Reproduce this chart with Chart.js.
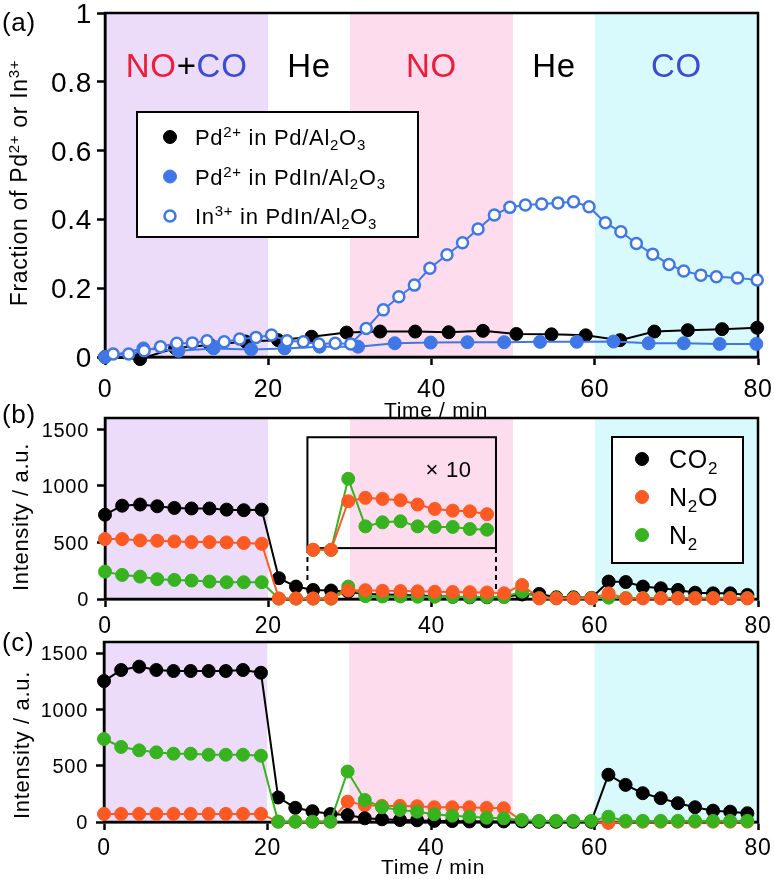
<!DOCTYPE html>
<html>
<head>
<meta charset="utf-8">
<title>Pd / PdIn transient response</title>
<script src="https://cdn.jsdelivr.net/npm/chart.js@4.4.1/dist/chart.umd.min.js"></script>
<style>
  html, body { margin: 0; padding: 0; background: #fff; }
  #figure { position: relative; width: 774px; height: 879px; overflow: hidden; }
  #figure canvas { position: absolute; left: 0; }
</style>
</head>
<body>
<div id="figure">
  <canvas id="panel-a" width="774" height="424" style="top:0"></canvas>
  <canvas id="panel-b" width="774" height="240" style="top:400px"></canvas>
  <canvas id="panel-c" width="774" height="249" style="top:630px"></canvas>
</div>
<script>
// gas switching sequence (min)
const phaseEdges = [0, 20, 30, 50, 60, 80];
const phaseGas = ['NO+CO', 'He', 'NO', 'He', 'CO'];

// tick values
const timeTicks = [0, 20, 40, 60, 80];
const fracTicks = [0, 0.2, 0.4, 0.6, 0.8, 1];
const intensityTicks = [0, 500, 1000, 1500];

// (a) fraction of oxidised species
const pdAlTime = [0, 4.3, 8.6, 12.9, 17.2, 21.2, 25.3, 29.6, 33.7, 38.0, 42.1, 46.3, 50.4, 54.7, 58.9, 63.1, 67.3, 71.4, 75.6, 79.9];
const pdAlFrac = [0.000, -0.006, 0.026, 0.035, 0.045, 0.049, 0.059, 0.071, 0.074, 0.074, 0.072, 0.076, 0.067, 0.066, 0.063, 0.049, 0.074, 0.078, 0.081, 0.085];
const pdInTime = [0, 4.7, 9.0, 13.3, 17.9, 22.0, 26.3, 31.0, 35.5, 39.9, 44.4, 48.9, 53.3, 57.8, 62.3, 66.6, 70.9, 75.3, 79.8];
const pdInFrac = [0.000, 0.025, 0.018, 0.025, 0.022, 0.025, 0.030, 0.030, 0.040, 0.042, 0.043, 0.043, 0.044, 0.044, 0.045, 0.040, 0.040, 0.038, 0.038];
const inTime = [1.0, 2.9, 4.8, 6.8, 8.8, 10.7, 12.5, 14.6, 16.5, 18.5, 20.4, 22.3, 24.3, 26.2, 28.2, 30.1, 32.0, 34.1, 36.0, 37.9,
                39.8, 41.9, 43.8, 45.7, 47.7, 49.6, 51.5, 53.5, 55.5, 57.4, 59.3, 61.3, 63.2, 65.1, 67.1, 69.1, 70.9, 73.0, 74.9, 77.5, 79.9];
const inFrac = [0.009, 0.009, 0.018, 0.030, 0.040, 0.041, 0.047, 0.044, 0.052, 0.057, 0.064, 0.047, 0.044, 0.038, 0.040, 0.038, 0.083, 0.137, 0.175, 0.209,
                0.258, 0.297, 0.332, 0.372, 0.413, 0.435, 0.442, 0.445, 0.448, 0.451, 0.437, 0.390, 0.364, 0.330, 0.299, 0.269, 0.250, 0.238, 0.233, 0.230, 0.224];

// (b), (c) mass spec sampling times (min)
const msTime = [0, 2.1, 4.3, 6.4, 8.5, 10.6, 12.8, 14.9, 17.0, 19.2, 21.3, 23.4, 25.5, 27.7, 29.8, 31.9, 34.0, 36.2, 38.3, 40.4,
                42.6, 44.7, 46.8, 48.9, 51.1, 53.2, 55.3, 57.4, 59.6, 61.7, 63.8, 65.9, 68.1, 70.2, 72.3, 74.5, 76.6, 78.7];

// (b) Pd/Al2O3
const bCO2 = [745, 825, 835, 820, 805, 800, 800, 790, 785, 790, 184, 110, 80, 75, 65, 45, 40, 35, 30, 25,
              20, 15, 15, 20, 40, 45, 15, 15, 10, 154, 150, 110, 95, 80, 56, 50, 50, 36];
const bN2O = [530, 530, 518, 515, 509, 503, 503, 500, 495, 488, 5, 5, 5, 5, 75, 78, 72, 70, 68, 64,
              62, 60, 58, 50, 124, 5, 5, 5, 5, 50, 5, 5, 5, 5, 5, 5, 5, 5];
const bN2 = [242, 213, 198, 175, 169, 163, 154, 148, 148, 148, 3, 3, 3, 3, 110, 25, 22, 22, 20, 20,
             18, 18, 18, 18, 65, 8, 8, 8, 8, 12, 8, 8, 8, 8, 8, 8, 8, 8];
// (b) x10 inset, as plotted
const insetTime = [25.5, 27.7, 29.8, 31.9, 34.0, 36.2, 38.3, 40.4, 42.6, 44.7, 46.8];
const insetN2O = [435, 435, 864, 894, 885, 873, 835, 796, 781, 775, 750];
const insetN2 = [435, 435, 1063, 642, 678, 687, 642, 637, 637, 619, 613];
const insetBox = { t0: 24.8, t1: 47.9, lo: 450, hi: 1430, leftDrop: 142, rightDrop: 80 };

// (c) PdIn/Al2O3
const cCO2 = [1253, 1351, 1381, 1351, 1342, 1342, 1342, 1342, 1351, 1327, 218, 126, 96, 71, 62, 33, 24, 18, 15, 10,
              8, 5, 5, 5, 5, 3, 3, 3, 3, 420, 330, 256, 212, 167, 131, 101, 92, 78];
const cN2O = [72, 72, 72, 72, 72, 72, 72, 72, 72, 72, 3, 3, 3, 3, 181, 150, 143, 143, 140, 131,
              131, 131, 125, 122, 10, 3, 3, 3, 3, -8, 3, 3, 3, 3, 3, 3, 3, 3];
const cN2 = [738, 667, 637, 619, 607, 607, 598, 598, 598, 589, 3, 3, 3, 3, 449, 196, 131, 107, 92, 69,
             56, 47, 38, 33, 18, 10, 10, 10, 10, 47, 10, 10, 10, 10, 10, 10, 10, 10];

const FAMILY = "'Liberation Sans', Arial, Helvetica, sans-serif";
const SPACING = '0.7px';
const BLACK = '#000000', BLUE = '#3f78e6', ORANGE = '#fc5a22', GREEN = '#36b31f';
const RED = '#ee1b3b', GAS_BLUE = '#3a4bd6';
const BAND = { 'NO+CO': '#ecdcf9', 'He': '#ffffff', 'NO': '#fcdced', 'CO': '#d9fafc' };
const GAS_TEXT = {
  'NO+CO': [{ t: 'NO', c: RED }, { t: '+' }, { t: 'CO', c: GAS_BLUE }],
  'He': [{ t: 'He' }],
  'NO': [{ t: 'NO', c: RED }],
  'CO': [{ t: 'CO', c: GAS_BLUE }]
};

const pts = (xs, ys) => xs.map((x, i) => ({ x, y: ys[i] }));

// text with super/subscripts, drawn on the baseline y
function runSize(p, size) { return (p.sup || p.sub) ? Math.round(size * 0.66) : size; }
function runWidth(ctx, parts, size) {
  let w = 0;
  parts.forEach(p => { ctx.font = runSize(p, size) + 'px ' + FAMILY; w += ctx.measureText(p.t).width; });
  return w;
}
// align: 'left' | 'center' | 'right'
function drawRun(ctx, parts, x, y, size, align) {
  ctx.save();
  ctx.letterSpacing = SPACING;
  ctx.textAlign = 'left';
  ctx.textBaseline = 'alphabetic';
  const w = runWidth(ctx, parts, size);
  let cx = align === 'center' ? x - w / 2 : (align === 'right' ? x - w : x);
  parts.forEach(p => {
    ctx.font = runSize(p, size) + 'px ' + FAMILY;
    ctx.fillStyle = p.c || BLACK;
    const dy = p.sup ? -size * 0.36 : (p.sub ? size * 0.22 : 0);
    ctx.fillText(p.t, cx, y + dy);
    cx += ctx.measureText(p.t).width;
  });
  ctx.restore();
}
function drawVertical(ctx, parts, x, yCenter, size) {
  ctx.save();
  ctx.translate(x, yCenter);
  ctx.rotate(-Math.PI / 2);
  drawRun(ctx, parts, 0, 0, size, 'center');
  ctx.restore();
}
function marker(ctx, x, y, r, fill, stroke, lw) {
  ctx.beginPath();
  ctx.arc(x, y, r, 0, Math.PI * 2);
  ctx.fillStyle = fill;
  ctx.fill();
  ctx.lineWidth = lw;
  ctx.strokeStyle = stroke;
  ctx.stroke();
}

function xScale(height) {
  return {
    type: 'linear', min: 0, max: 80,
    afterBuildTicks: s => { s.ticks = timeTicks.map(v => ({ value: v })); },
    afterFit: s => { s.height = height; s.paddingLeft = 0; s.paddingRight = 0; },
    ticks: { display: false, autoSkip: false },
    grid: { drawOnChartArea: false, drawTicks: true, tickLength: 8, tickWidth: 2.5, tickColor: BLACK },
    border: { color: BLACK, width: 2.5 }
  };
}
function yScale(max, ticks, width) {
  return {
    type: 'linear', min: 0, max: max,
    afterBuildTicks: s => { s.ticks = ticks.map(v => ({ value: v })); },
    afterFit: s => { s.width = width; s.paddingTop = 0; s.paddingBottom = 0; },
    ticks: { display: false, autoSkip: false },
    grid: { drawOnChartArea: false, drawTicks: true, tickLength: 8, tickWidth: 2.5, tickColor: BLACK },
    border: { color: BLACK, width: 2.5 }
  };
}

function series(label, xs, ys, color, order, r, open) {
  return {
    label: label, data: pts(xs, ys), order: order, clip: false,
    borderColor: color, borderWidth: 2, tension: 0,
    pointRadius: r, pointHoverRadius: r,
    pointBackgroundColor: open ? '#ffffff' : color,
    pointBorderColor: color, pointBorderWidth: open ? 2.5 : 1
  };
}

// bands, frame, tick labels and annotation text of one panel
function decor(cfg) {
  return {
    id: 'decor',
    beforeDraw(chart) {
      const { ctx, chartArea: a, scales: { x } } = chart;
      ctx.save();
      phaseGas.forEach((g, i) => {
        const x0 = x.getPixelForValue(phaseEdges[i]), x1 = x.getPixelForValue(phaseEdges[i + 1]);
        ctx.fillStyle = BAND[g];
        ctx.fillRect(x0, a.top, x1 - x0, a.bottom - a.top);
      });
      ctx.restore();
    },
    beforeDatasetsDraw(chart) {
      const { ctx, chartArea: a } = chart;
      ctx.save();
      ctx.strokeStyle = BLACK;
      ctx.lineWidth = 2.5;
      ctx.strokeRect(a.left, a.top, a.right - a.left, a.bottom - a.top);
      if (cfg.inset) cfg.inset(chart);
      ctx.restore();
    },
    afterDraw(chart) {
      const { ctx, chartArea: a, scales: { x, y } } = chart;
      ctx.save();
      // tick labels from the scales' own ticks
      x.ticks.forEach(t => {
        drawRun(ctx, [{ t: String(t.value) }], x.getPixelForValue(t.value), a.bottom + cfg.xLabelGap + cfg.xTickSize * 0.36, cfg.xTickSize, 'center');
      });
      y.ticks.forEach(t => {
        drawRun(ctx, [{ t: String(t.value) }], a.left - cfg.yLabelGap, y.getPixelForValue(t.value) + cfg.yTickSize * 0.36, cfg.yTickSize, 'right');
      });
      drawRun(ctx, [{ t: cfg.letter }], 2, cfg.letterY + 9, 26, 'left');
      drawVertical(ctx, cfg.yTitle, cfg.yTitleX, cfg.yTitleY, cfg.yTitleSize);
      if (cfg.xTitleY) drawRun(ctx, [{ t: 'Time / min' }], cfg.xTitleX, cfg.xTitleY + 7, 21, 'center');
      if (cfg.extra) cfg.extra(chart);
      ctx.restore();
    }
  };
}

const baseOptions = (padTop, padRight, scales) => ({
  responsive: false, animation: false, devicePixelRatio: 1,
  layout: { padding: { top: padTop, right: padRight, left: 0, bottom: 0 } },
  plugins: { legend: { display: false }, tooltip: { enabled: false } },
  scales: scales
});

// ---------- (a)
const legendA = [
  { parts: [{ t: 'Pd' }, { t: '2+', sup: 1 }, { t: ' in Pd/Al' }, { t: '2', sub: 1 }, { t: 'O' }, { t: '3', sub: 1 }], color: BLACK },
  { parts: [{ t: 'Pd' }, { t: '2+', sup: 1 }, { t: ' in PdIn/Al' }, { t: '2', sub: 1 }, { t: 'O' }, { t: '3', sub: 1 }], color: BLUE },
  { parts: [{ t: 'In' }, { t: '3+', sup: 1 }, { t: ' in PdIn/Al' }, { t: '2', sub: 1 }, { t: 'O' }, { t: '3', sub: 1 }], color: BLUE, open: true }
];
const gasLevel = 0.85;

new Chart(document.getElementById('panel-a'), {
  type: 'line',
  data: {
    datasets: [
      series('In3+ in PdIn/Al2O3', inTime, inFrac, BLUE, 0, 5.5, true),
      series('Pd2+ in PdIn/Al2O3', pdInTime, pdInFrac, BLUE, 1, 6.5, false),
      series('Pd2+ in Pd/Al2O3', pdAlTime, pdAlFrac, BLACK, 2, 6.5, false)
    ]
  },
  options: baseOptions(13, 16, { x: xScale(67), y: yScale(1, fracTicks, 105) }),
  plugins: [decor({
    letter: '(a)', letterY: 22,
    xTickSize: 25, xLabelGap: 31, yTickSize: 28, yLabelGap: 13,
    yTitle: [{ t: 'Fraction of Pd' }, { t: '2+', sup: 1 }, { t: ' or In' }, { t: '3+', sup: 1 }],
    yTitleX: 27, yTitleY: 183, yTitleSize: 23,
    xTitleX: 436, xTitleY: 410,
    extra(chart) {
      const { ctx, chartArea: a, scales: { x, y } } = chart;
      phaseGas.forEach((g, i) => {
        const cx = x.getPixelForValue((phaseEdges[i] + phaseEdges[i + 1]) / 2);
        drawRun(ctx, GAS_TEXT[g], cx, y.getPixelForValue(gasLevel) + 12, 33, 'center');
      });
      const bx = a.left + 32, by = a.top + 99;
      ctx.fillStyle = '#ffffff';
      ctx.fillRect(bx, by, 281, 125);
      ctx.strokeStyle = BLACK;
      ctx.lineWidth = 2;
      ctx.strokeRect(bx, by, 281, 125);
      legendA.forEach((it, i) => {
        const ry = by + 25 + i * 39.5;
        if (it.open) marker(ctx, bx + 33, ry, 5.5, '#ffffff', it.color, 2.5);
        else marker(ctx, bx + 33, ry, 6.5, it.color, it.color, 1);
        drawRun(ctx, it.parts, bx + 58, ry + 8, 22, 'left');
      });
    }
  })]
});

// ---------- (b)
const legendB = [
  { parts: [{ t: 'CO' }, { t: '2', sub: 1 }], color: BLACK },
  { parts: [{ t: 'N' }, { t: '2', sub: 1 }, { t: 'O' }], color: ORANGE },
  { parts: [{ t: 'N' }, { t: '2', sub: 1 }], color: GREEN }
];
const intensityTitle = [{ t: 'Intensity / a.u.' }];

new Chart(document.getElementById('panel-b'), {
  type: 'line',
  data: {
    datasets: [
      series('N2O x10', insetTime, insetN2O, ORANGE, 0, 6.5, false),
      series('N2 x10', insetTime, insetN2, GREEN, 1, 6.5, false),
      series('N2O', msTime, bN2O, ORANGE, 2, 6.5, false),
      series('N2', msTime, bN2, GREEN, 3, 6.5, false),
      series('CO2', msTime, bCO2, BLACK, 4, 6.5, false)
    ]
  },
  options: baseOptions(18, 16, { x: xScale(41), y: yScale(1600, intensityTicks, 105) }),
  plugins: [decor({
    letter: '(b)', letterY: 14,
    xTickSize: 23, xLabelGap: 26, yTickSize: 20, yLabelGap: 16,
    yTitle: intensityTitle, yTitleX: 28, yTitleY: 117, yTitleSize: 22,
    inset(chart) {
      const { ctx, scales: { x, y } } = chart;
      const x0 = x.getPixelForValue(insetBox.t0), x1 = x.getPixelForValue(insetBox.t1);
      const y0 = y.getPixelForValue(insetBox.hi), y1 = y.getPixelForValue(insetBox.lo);
      ctx.lineWidth = 2;
      ctx.strokeRect(x0, y0, x1 - x0, y1 - y0);
      ctx.setLineDash([5, 4]);
      ctx.beginPath();
      ctx.moveTo(x0, y1); ctx.lineTo(x0, y.getPixelForValue(insetBox.leftDrop));
      ctx.moveTo(x1, y1); ctx.lineTo(x1, y.getPixelForValue(insetBox.rightDrop));
      ctx.stroke();
      ctx.setLineDash([]);
    },
    extra(chart) {
      const { ctx, chartArea: a, scales: { x, y } } = chart;
      drawRun(ctx, [{ t: '\u00d7 10' }], x.getPixelForValue(42.1), y.getPixelForValue(1145) + 8, 22, 'center');
      const bx = a.right - 146, by = a.top + 19;
      ctx.fillStyle = '#ffffff';
      ctx.fillRect(bx, by, 131, 126);
      ctx.strokeStyle = BLACK;
      ctx.lineWidth = 2;
      ctx.strokeRect(bx, by, 131, 126);
      legendB.forEach((it, i) => {
        const ry = by + 22 + i * 38;
        marker(ctx, bx + 30, ry, 6.5, it.color, it.color, 1);
        drawRun(ctx, it.parts, bx + 57, ry + 9, 25, 'left');
      });
    }
  })]
});

// ---------- (c)
new Chart(document.getElementById('panel-c'), {
  type: 'line',
  data: {
    datasets: [
      series('N2', msTime, cN2, GREEN, 0, 6.5, false),
      series('CO2', msTime, cCO2, BLACK, 1, 6.5, false),
      series('N2O', msTime, cN2O, ORANGE, 2, 6.5, false)
    ]
  },
  options: baseOptions(12, 16, { x: xScale(57), y: yScale(1600, intensityTicks, 104) }),
  plugins: [decor({
    letter: '(c)', letterY: 12,
    xTickSize: 23, xLabelGap: 25, yTickSize: 20, yLabelGap: 16,
    yTitle: intensityTitle, yTitleX: 29, yTitleY: 115, yTitleSize: 22,
    xTitleX: 433, xTitleY: 237
  })]
});
</script>
</body>
</html>
